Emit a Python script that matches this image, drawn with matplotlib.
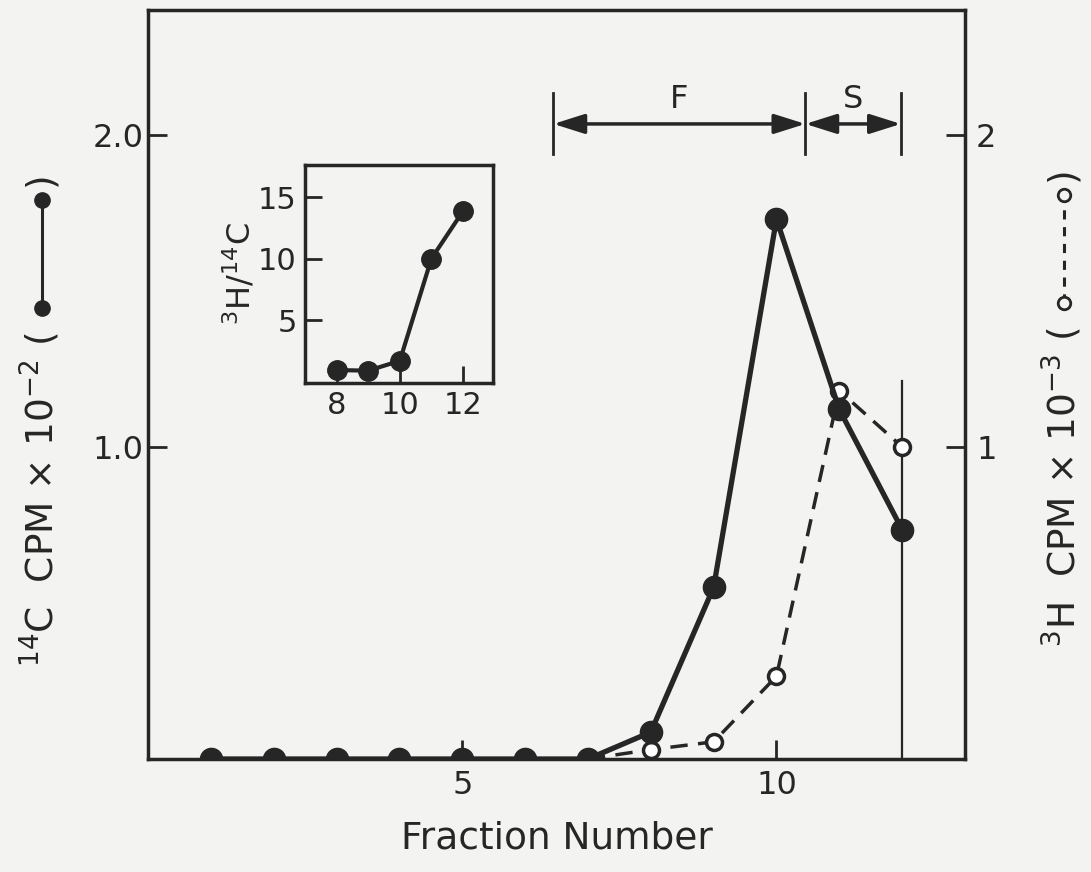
import matplotlib
matplotlib.use("Agg")
import matplotlib.pyplot as plt
from matplotlib.lines import Line2D
from matplotlib.transforms import IdentityTransform

# fraction numbers and counts
fractions = [1, 2, 3, 4, 5, 6, 7, 8, 9, 10, 11, 12]
c14_cpm = [0, 0, 0, 0, 0, 0, 0, 0.086, 0.55, 1.73, 1.12, 0.735]   # x 10^-2

h3_fractions = [7, 8, 9, 10, 11, 12]
h3_cpm = [0, 0.03, 0.055, 0.265, 1.18, 1.0]   # x 10^-3

# ratio inset
ratio_fractions = [8, 9, 10, 11, 12]
ratio_h3_c14 = [0.95, 0.9, 1.7, 10.0, 13.85]

# pool boundaries (F, S)
f_start, f_end, s_end = 6.45, 10.46, 11.98

INK = "#262626"
BG = "#f3f3f1"

plt.rcParams["font.family"] = ["DejaVu Sans"]
plt.rcParams["mathtext.default"] = "regular"

fig = plt.figure(figsize=(10.91, 8.72), dpi=100, facecolor=BG)
ax = fig.add_axes([0.1357, 0.1296, 0.7488, 0.8589])
ax.set_facecolor(BG)

ax.plot(h3_fractions, h3_cpm, color=INK, lw=2.5, ls=(0, (5, 3)),
        marker="o", ms=11.5, mfc="white", mec=INK, mew=2.5, zorder=3)
ax.plot(fractions, c14_cpm, color=INK, lw=3.8, marker="o", ms=16,
        mfc=INK, mec=INK, zorder=4)

ax.set_xlim(0, 13)
ax.set_ylim(0, 2.4)
ax.set_xticks([5, 10])
ax.set_xticklabels(["5", "10"])
ax.set_yticks([1.0, 2.0])
ax.set_yticklabels(["1.0", "2.0"])
ax.tick_params(direction="in", length=14, width=2, colors=INK, labelsize=23)
ax.tick_params(axis="y", pad=3)
ax.tick_params(axis="x", pad=8)
for sp in ax.spines.values():
    sp.set_linewidth(2.5)
    sp.set_color(INK)

ax2 = ax.twinx()
ax2.set_ylim(0, 2.4)
ax2.set_yticks([1, 2])
ax2.set_yticklabels(["1", "2"])
ax2.tick_params(direction="in", length=14, width=2, colors=INK, labelsize=23, pad=8)
for sp in ax2.spines.values():
    sp.set_visible(False)

# fraction 12 marker line
ax.plot([12, 12], [0, 1.21], color=INK, lw=1.6, zorder=2)

# F / S pools
y_arrow = 2.035
for x0, x1, lab in [(f_start, f_end, "F"), (f_end, s_end, "S")]:
    ax.annotate("", xy=(x1, y_arrow), xytext=(x0, y_arrow),
                arrowprops=dict(arrowstyle="<|-|>,head_length=0.95,head_width=0.3",
                                color=INK, lw=2.5, mutation_scale=20,
                                shrinkA=0, shrinkB=0))
    ax.text((x0 + x1) / 2, y_arrow + 0.03, lab, ha="center", va="bottom",
            fontsize=23, color=INK)
for xb in [f_start, f_end, s_end]:
    ax.plot([xb, xb], [1.94, 2.135], color=INK, lw=2)

ax.set_xlabel("Fraction Number", fontsize=27, color=INK, labelpad=14)

# axis titles, each followed by a small key of its symbol in brackets
px = IdentityTransform()
fig.canvas.draw()
renderer = fig.canvas.get_renderer()


def title_with_key(x, y, text, key_style):
    t = fig.text(x, y, text, rotation=90, ha="center", va="bottom",
                 fontsize=27, color=INK, transform=px)
    top = t.get_window_extent(renderer).y1
    k0, k1 = top + 24, top + 132
    fig.add_artist(Line2D([x + 2, x + 2], [k0, k1], transform=px, color=INK,
                          **key_style))
    fig.text(x, k1 + 14, ")", rotation=90, ha="center", va="bottom",
             fontsize=27, color=INK, transform=px)


title_with_key(40, 205, r"$^{14}$C  CPM × 10$^{-2}$ (",
               dict(lw=2.2, marker="o", ms=11, mfc=INK, mec=INK))
title_with_key(1062, 225, r"$^{3}$H  CPM × 10$^{-3}$ (",
               dict(lw=2.2, ls=(0, (3, 2.5)), marker="o", ms=9, mfc=BG,
                    mec=INK, mew=2))

# inset: 3H / 14C ratio
ins = fig.add_axes([0.2796, 0.5608, 0.1723, 0.25])
ins.set_facecolor(BG)
ins.plot(ratio_fractions, ratio_h3_c14, color=INK, lw=3, marker="o", ms=14,
         mfc=INK, mec=INK)
ins.set_xlim(7, 12.95)
ins.set_ylim(-0.1, 17.6)
ins.set_xticks([8, 10, 12])
ins.set_yticks([5, 10, 15])
ins.tick_params(direction="in", length=12, width=2, colors=INK, labelsize=22, pad=6)
for sp in ins.spines.values():
    sp.set_linewidth(2.5)
    sp.set_color(INK)
ins.set_ylabel(r"$^{3}$H/$^{14}$C", fontsize=23, color=INK, labelpad=0)

fig.savefig("out.png", dpi=100, facecolor=BG)
